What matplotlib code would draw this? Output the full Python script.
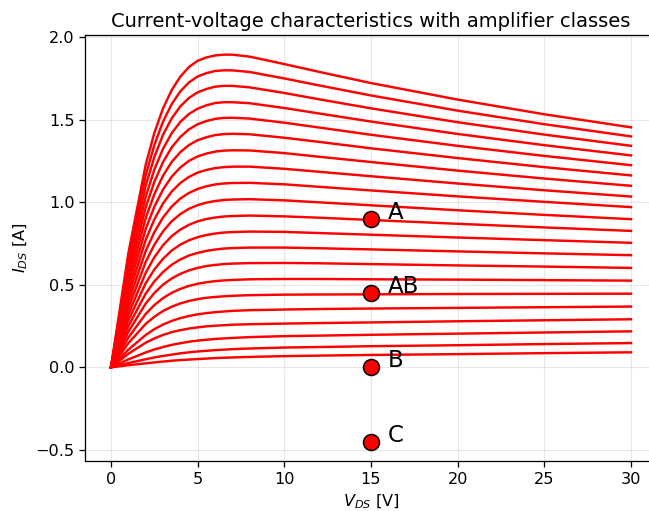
import numpy as np
import matplotlib
matplotlib.use("Agg")
import matplotlib.pyplot as plt

# drain-source voltage samples [V]
vds = [0, 1, 2, 2.5, 3, 3.5, 4, 4.5, 5, 5.5, 6, 6.5, 7, 8, 10, 12, 15, 20, 25, 30]

# drain current [A] for each gate step, top curve first
ids_curves = [
    [0, .690, 1.225, 1.419, 1.567, 1.678, 1.760, 1.818, 1.856, 1.876, 1.888, 1.893, 1.893, 1.881, 1.836, 1.789, 1.721, 1.621, 1.532, 1.453],
    [0, .654, 1.162, 1.346, 1.487, 1.593, 1.671, 1.725, 1.761, 1.781, 1.794, 1.798, 1.798, 1.788, 1.749, 1.707, 1.646, 1.554, 1.472, 1.398],
    [0, .618, 1.099, 1.273, 1.407, 1.507, 1.580, 1.631, 1.665, 1.685, 1.699, 1.704, 1.704, 1.695, 1.661, 1.623, 1.568, 1.484, 1.409, 1.341],
    [0, .580, 1.032, 1.197, 1.323, 1.417, 1.486, 1.534, 1.566, 1.586, 1.600, 1.605, 1.605, 1.599, 1.570, 1.537, 1.488, 1.413, 1.345, 1.283],
    [0, .544, .968, 1.123, 1.242, 1.331, 1.395, 1.441, 1.472, 1.491, 1.504, 1.510, 1.511, 1.506, 1.481, 1.452, 1.408, 1.341, 1.280, 1.224],
    [0, .507, .903, 1.048, 1.160, 1.243, 1.303, 1.346, 1.375, 1.393, 1.406, 1.412, 1.414, 1.411, 1.390, 1.365, 1.326, 1.267, 1.212, 1.162],
    [0, .470, .837, .972, 1.076, 1.154, 1.210, 1.250, 1.277, 1.294, 1.306, 1.312, 1.314, 1.313, 1.297, 1.275, 1.243, 1.191, 1.143, 1.099],
    [0, .432, .771, .895, .992, 1.064, 1.116, 1.153, 1.179, 1.195, 1.206, 1.212, 1.215, 1.215, 1.202, 1.184, 1.157, 1.113, 1.072, 1.034],
    [0, .394, .704, .818, .907, .973, 1.022, 1.056, 1.080, 1.096, 1.107, 1.113, 1.116, 1.117, 1.108, 1.093, 1.071, 1.035, 1.002, .970],
    [0, .357, .638, .742, .823, .884, .928, .960, .982, .997, 1.007, 1.013, 1.016, 1.018, 1.011, .999, .981, .951, .923, .897],
    [0, .320, .572, .666, .739, .794, .834, .863, .884, .898, .907, .913, .916, .919, .914, .906, .892, .869, .847, .826],
    [0, .284, .509, .592, .657, .707, .743, .769, .788, .801, .810, .816, .819, .822, .820, .813, .803, .786, .770, .754],
    [0, .249, .446, .520, .577, .621, .653, .677, .693, .705, .713, .719, .722, .725, .725, .721, .714, .702, .690, .679],
    [0, .215, .386, .450, .500, .538, .566, .587, .602, .613, .620, .625, .628, .631, .632, .630, .625, .617, .610, .602],
    [0, .180, .323, .377, .419, .451, .475, .493, .506, .515, .522, .526, .529, .533, .535, .535, .533, .531, .528, .525],
    [0, .146, .263, .306, .341, .367, .387, .402, .413, .421, .426, .430, .433, .437, .440, .441, .442, .444, .445, .446],
    [0, .107, .196, .231, .259, .281, .298, .311, .321, .328, .334, .338, .342, .346, .350, .353, .356, .360, .364, .368],
    [0, .082, .149, .175, .196, .213, .225, .235, .242, .248, .252, .255, .258, .261, .265, .268, .272, .279, .285, .291],
    [0, .048, .090, .108, .123, .136, .146, .155, .162, .167, .172, .175, .178, .183, .189, .192, .197, .204, .211, .218],
    [0, .026, .049, .060, .069, .077, .085, .091, .096, .100, .104, .107, .110, .114, .120, .123, .128, .134, .141, .147],
    [0, .013, .024, .030, .035, .040, .044, .047, .050, .053, .056, .058, .060, .063, .068, .071, .075, .080, .086, .091],
]

# operating points of the amplifier classes
class_names = ["A", "AB", "B", "C"]
class_vds = [15, 15, 15, 15]
class_ids = [0.9, 0.45, 0.0, -0.45]

plt.rcParams.update({
    "font.size": 11.6,
    "axes.linewidth": 0.93,
    "xtick.major.size": 4.1,
    "ytick.major.size": 4.1,
    "xtick.major.width": 0.93,
    "ytick.major.width": 0.93,
})

fig = plt.figure(figsize=(6.49, 5.11), dpi=100)
ax = fig.add_axes([85 / 649, 50 / 511, 572 / 649, 426 / 511])

for curve in ids_curves:
    ax.plot(vds, curve, color="red", lw=1.75)

for name, x, y in zip(class_names, class_vds, class_ids):
    ax.plot(x, y, "o", ms=11.5, mfc="red", mec="black", mew=1.1)
    ax.annotate(name, (x, y), xytext=(12, 0), textcoords="offset points", fontsize=16.5)

ax.set_xlim(-1.5, 31.5)
ax.set_ylim(-0.567, 2.012)
ax.set_xticks([0, 5, 10, 15, 20, 25, 30])
ax.set_yticks([-0.5, 0.0, 0.5, 1.0, 1.5, 2.0])
ax.grid(True, alpha=0.3)
ax.set_xlabel("$V_{DS}$ [V]")
ax.set_ylabel("$I_{DS}$ [A]")
ax.set_title("Current-voltage characteristics with amplifier classes", fontsize=14)

fig.savefig("out.png", dpi=100)
